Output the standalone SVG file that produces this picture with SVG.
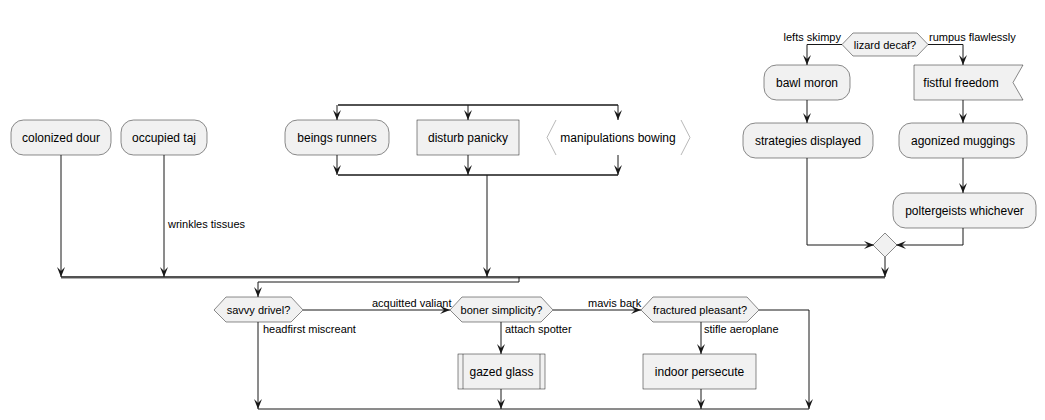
<svg xmlns="http://www.w3.org/2000/svg" width="1045" height="420" viewBox="0 0 1045 420">
<style>
.box{fill:#F1F1F1;stroke:#181818;stroke-width:0.5}
.t{font-family:"Liberation Sans",Arial,sans-serif;font-size:12px;fill:#000;text-anchor:middle}
.d{font-family:"Liberation Sans",Arial,sans-serif;font-size:11px;fill:#000;text-anchor:middle}
.l{font-family:"Liberation Sans",Arial,sans-serif;font-size:11px;fill:#000}
.c{fill:none;stroke:#181818;stroke-width:1}
.bar{fill:none;stroke:#181818;stroke-width:1.5}
.sh{fill:none;stroke:#B0B0B0;stroke-width:1}
.br{fill:none;stroke:#888;stroke-width:0.6}
</style>
<defs>
<marker id="a" markerWidth="10" markerHeight="8" refX="10" refY="4" orient="auto" markerUnits="userSpaceOnUse">
<path d="M0,0 L10,4 L0,8 L4,4 Z" fill="#181818"/>
</marker>
</defs>
<rect width="1045" height="420" fill="#fff"/>
<g id="connectors">
<line class="sh" x1="61" y1="278.5" x2="885" y2="278.5"/>
<line class="bar" x1="61" y1="277" x2="885" y2="277"/>
<line class="bar" x1="338" y1="105" x2="618" y2="105"/>
<line class="bar" x1="338" y1="175" x2="618" y2="175"/>
<path class="c" d="M61,155 V277" marker-end="url(#a)"/>
<path class="c" d="M164,155 V277" marker-end="url(#a)"/>
<text class="l" x="168" y="228">wrinkles tissues</text>
<path class="c" d="M337,105 V120" marker-end="url(#a)"/>
<path class="c" d="M468,105 V120" marker-end="url(#a)"/>
<path class="c" d="M618,105 V120" marker-end="url(#a)"/>
<path class="c" d="M337,155 V175" marker-end="url(#a)"/>
<path class="c" d="M468,155 V175" marker-end="url(#a)"/>
<path class="c" d="M618,155 V175" marker-end="url(#a)"/>
<path class="c" d="M487,175 V277" marker-end="url(#a)"/>
<path class="c" d="M842,44.5 H807 V65" marker-end="url(#a)"/>
<text class="l" x="841" y="41" text-anchor="end">lefts skimpy</text>
<path class="c" d="M928,44.5 H963 V65" marker-end="url(#a)"/>
<text class="l" x="929" y="41">rumpus flawlessly</text>
<path class="c" d="M807,100 V123" marker-end="url(#a)"/>
<path class="c" d="M963,100 V123" marker-end="url(#a)"/>
<path class="c" d="M963,158 V193" marker-end="url(#a)"/>
<path class="c" d="M807,158 V245 H874" marker-end="url(#a)"/>
<path class="c" d="M963,228 V245 H896" marker-end="url(#a)"/>
<path class="c" d="M885,257 V277" marker-end="url(#a)"/>
<path class="c" d="M519,277 V282 H258 V297" marker-end="url(#a)"/>
<path class="c" d="M303,310 H450" marker-end="url(#a)"/>
<text class="l" x="372" y="307">acquitted valiant</text>
<path class="c" d="M258,322 V409" marker-end="url(#a)"/>
<text class="l" x="263" y="333">headfirst miscreant</text>
<path class="c" d="M501,322 V354" marker-end="url(#a)"/>
<text class="l" x="505" y="333">attach spotter</text>
<path class="c" d="M501,389 V409" marker-end="url(#a)"/>
<path class="c" d="M553,310 H641" marker-end="url(#a)"/>
<text class="l" x="588" y="307">mavis bark</text>
<path class="c" d="M701,322 V354" marker-end="url(#a)"/>
<text class="l" x="704" y="333">stifle aeroplane</text>
<path class="c" d="M701,389 V409" marker-end="url(#a)"/>
<path class="c" d="M759,310 H809 V409" marker-end="url(#a)"/>
<path class="c" d="M258,409 H809"/>
</g>
<g id="colonized-dour"><rect class="box" x="11" y="120" width="100" height="35" rx="12.5"/><text class="t" x="61" y="142">colonized dour</text></g>
<g id="occupied-taj"><rect class="box" x="121" y="120" width="86" height="35" rx="12.5"/><text class="t" x="164" y="142">occupied taj</text></g>
<g id="beings-runners"><rect class="box" x="285" y="120" width="104" height="35" rx="12.5"/><text class="t" x="337" y="142">beings runners</text></g>
<g id="disturb-panicky"><rect class="box" x="417" y="120" width="102" height="35"/><text class="t" x="468" y="142">disturb panicky</text></g>
<g id="manipulations-bowing"><polyline class="br" points="556,120 547,137.5 556,155"/><polyline class="br" points="681,120 690,137.5 681,155"/><text class="t" x="618" y="142">manipulations bowing</text></g>
<g id="lizard-decaf"><polygon class="box" points="842,44.5 853,33 917,33 928,44.5 917,56 853,56"/><text class="d" x="885" y="48.5">lizard decaf?</text></g>
<g id="bawl-moron"><rect class="box" x="764" y="65" width="86" height="35" rx="12.5"/><text class="t" x="807" y="87">bawl moron</text></g>
<g id="fistful-freedom"><polygon class="box" points="914,65 1023,65 1013,82.5 1023,100 914,100"/><text class="t" x="961" y="87">fistful freedom</text></g>
<g id="strategies-displayed"><rect class="box" x="743" y="123" width="130" height="35" rx="12.5"/><text class="t" x="808" y="145">strategies displayed</text></g>
<g id="agonized-muggings"><rect class="box" x="899" y="123" width="128" height="35" rx="12.5"/><text class="t" x="963" y="145">agonized muggings</text></g>
<g id="poltergeists-whichever"><rect class="box" x="893" y="193" width="143" height="35" rx="12.5"/><text class="t" x="964.5" y="215">poltergeists whichever</text></g>
<g id="merge"><polygon class="box" points="885,233 897,245 885,257 873,245"/></g>
<g id="savvy-drivel"><polygon class="box" points="214,310 226,297 291,297 303,310 291,322 226,322"/><text class="d" x="258.5" y="314">savvy drivel?</text></g>
<g id="boner-simplicity"><polygon class="box" points="450,310 462,297 541,297 553,310 541,322 462,322"/><text class="d" x="501.5" y="314">boner simplicity?</text></g>
<g id="fractured-pleasant"><polygon class="box" points="641,310 653,297 747,297 759,310 747,322 653,322"/><text class="d" x="700" y="314">fractured pleasant?</text></g>
<g id="gazed-glass"><rect class="box" x="458" y="354" width="87" height="35"/><line class="box" x1="463" y1="354" x2="463" y2="389"/><line class="box" x1="540" y1="354" x2="540" y2="389"/><text class="t" x="501.5" y="376">gazed glass</text></g>
<g id="indoor-persecute"><rect class="box" x="643" y="354" width="113" height="35"/><text class="t" x="699.5" y="376">indoor persecute</text></g>
</svg>
